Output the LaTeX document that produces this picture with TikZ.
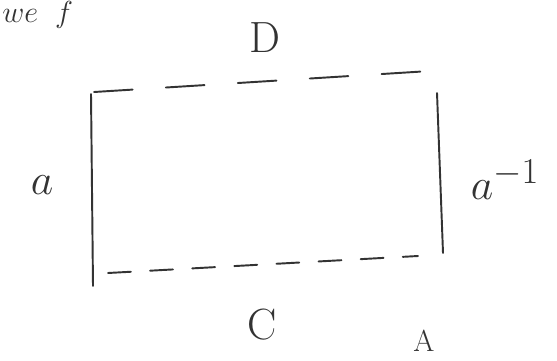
\documentclass[tikz,border=0pt]{standalone}
\usetikzlibrary{positioning}

\begin{document}
\begin{tikzpicture}[x=0.2mm, y=-0.2mm,
    pen/.style={draw, black!80, line width=1.1pt, line cap=round},
    longdash/.style={pen, dash pattern=on 22pt off 19pt},
    shortdash/.style={pen, dash pattern=on 13pt off 11pt},
    lbl/.style={font=\Huge, black!80, inner sep=0pt}]

\useasboundingbox (0,0) rectangle (557,360);

\coordinate (tl) at (94,92);
\coordinate (tr) at (446,70);
\coordinate (bl) at (108,273);
\coordinate (br) at (418,256);
\coordinate (ltop) at (91,94);
\coordinate (lbot) at (93,286);
\coordinate (rtop) at (437,93);
\coordinate (rbot) at (443,253);

\draw [pen] (ltop) -- (lbot);
\draw [pen] (rtop) -- (rbot);
\draw [longdash] (tl) -- (tr);
\draw [shortdash] (bl) -- (br);

\node [lbl] (d) at (265,38) {D};
\node [lbl] (c) at (262,325) {C};
\node [lbl] (a) at (42,185) {$a$};
\node [lbl] (ainv) at (505,180) {$a^{-1}$};

% bits of text near the page edges
\node [lbl, font=\LARGE, anchor=north west] (top) at (2,1) {$we\;\;f$};
\node [lbl, font=\LARGE, anchor=south] (bot) at (424,352) {A};

\end{tikzpicture}
\end{document}
